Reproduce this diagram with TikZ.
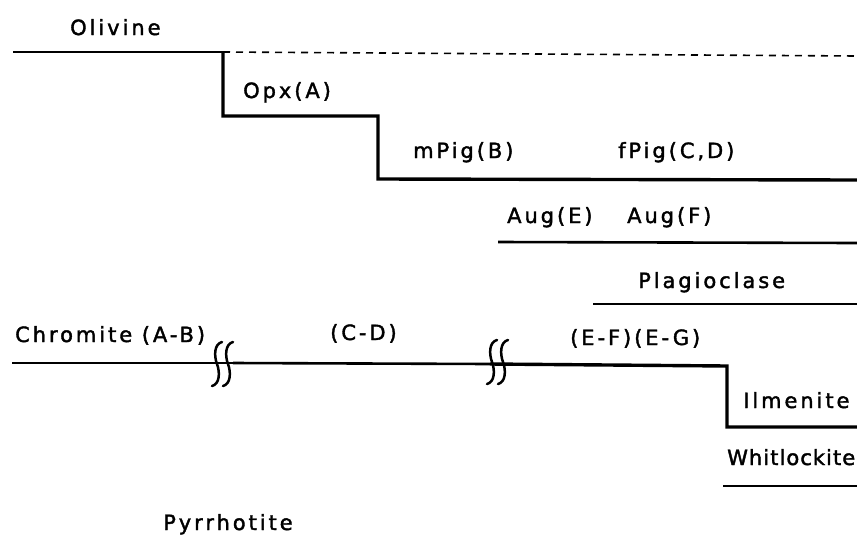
\documentclass[tikz,border=0pt]{standalone}
\usepackage{fontspec}
\setmainfont{DejaVu Sans}[LetterSpace=14,FakeBold=1.8]
\newfontfamily\tightlbl{DejaVu Sans}[LetterSpace=5,FakeBold=1.8]
\begin{document}
\begin{tikzpicture}[x=1pt,y=-1pt,
  lbl/.style={anchor=base west, inner sep=0pt, font=\fontsize{21}{24}\selectfont},
  thinline/.style={line width=2pt},
  thickline/.style={line width=3.4pt, line join=miter},
  dashline/.style={line width=1.6pt, dash pattern=on 7pt off 6pt},
  brk/.pic={\draw[line width=2.5pt, line cap=round]
     (5,-22) .. controls (-3,-20) and (-3,-8) .. (0,0)
             .. controls (3,8) and (3,20) .. (-5,22);}]
\useasboundingbox (0,0) rectangle (857,547);

% mineral labels
\node[lbl] (ol)  at (70,35)   {Olivine};
\node[lbl] (opx) at (243,98)  {Opx(A)};
\node[lbl] (mp)  at (413,158) {mPig(B)};
\node[lbl] (fp)  at (618,158) {fPig(C,D)};
\node[lbl] (ae)  at (507,223) {Aug(E)};
\node[lbl] (af)  at (627,223) {Aug(F)};
\node[lbl] (pl)  at (638,288) {Plagioclase};
\node[lbl] (chr) at (15,342)  {Chromite (A-B)};
\node[lbl] (cd)  at (330,340) {(C-D)};
\node[lbl] (ef)  at (570,345) {(E-F)(E-G)};
\node[lbl] (il)  at (743,408) {Ilmenite};
\node[lbl] (wh)  at (727,465) {\tightlbl Whitlockite};
\node[lbl] (po)  at (163,530) {Pyrrhotite};

% olivine / pyroxene staircase
\coordinate (o0) at (13,52);
\coordinate (o1) at (223,52);
\coordinate (o2) at (857,56);
\coordinate (s1) at (223,116);
\coordinate (s2) at (378,116);
\coordinate (s3) at (378,179);
\coordinate (s4) at (857,180);
\draw[thinline] (o0) -- (o1);
\draw[dashline] (o1) -- (o2);
\draw[thickline] (o1) -- (s1) -- (s2) -- (s3) -- (s4);

% augite and plagioclase
\coordinate (a0) at (498,242);
\coordinate (a1) at (857,243);
\coordinate (p0) at (593,304);
\coordinate (p1) at (857,304);
\draw[line width=2.6pt] (a0) -- (a1);
\draw[line width=2.6pt] (p0) -- (p1);

% chromite / ilmenite line with breaks
\coordinate (c0) at (12,363);
\coordinate (c1) at (233,363);
\coordinate (c2) at (490,364);
\coordinate (c3) at (727,366);
\coordinate (c4) at (727,427);
\coordinate (c5) at (857,427);
\draw[thinline] (c0) -- (c1);
\draw[line width=2.6pt] (c1) -- (c2);
\draw[thickline] (c2) -- (c3) -- (c4) -- (c5);
\pic at (217,364) {brk};
\pic at (228,364) {brk};
\pic at (492,362) {brk};
\pic at (503,362) {brk};

% whitlockite
\coordinate (w0) at (723,486);
\coordinate (w1) at (857,486);
\draw[line width=2.6pt] (w0) -- (w1);
\end{tikzpicture}
\end{document}
